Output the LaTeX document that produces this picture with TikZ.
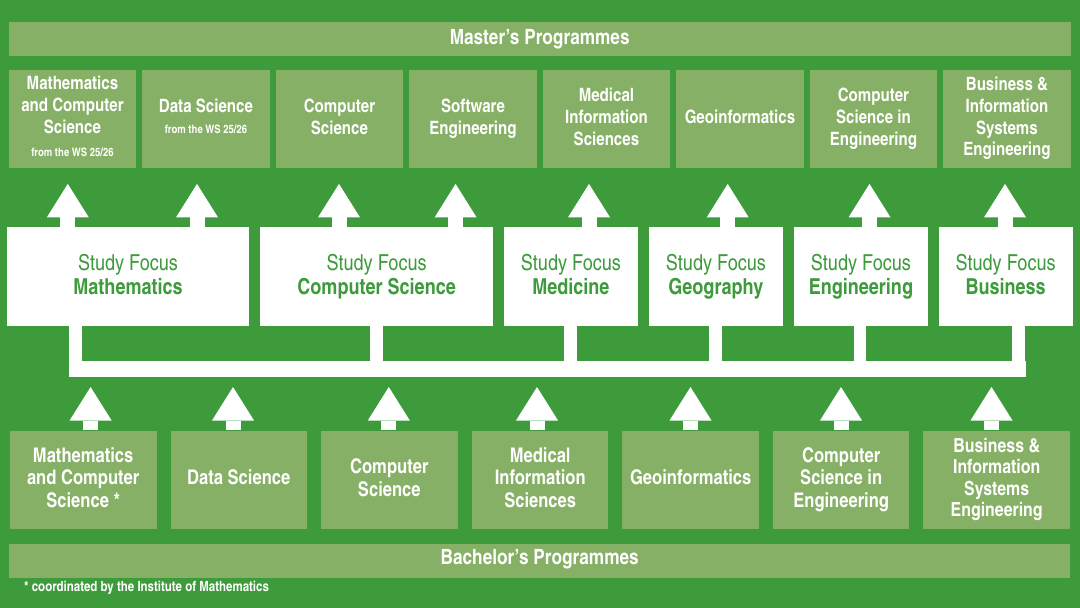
\documentclass[tikz,border=0pt]{standalone}
\usepackage{fontspec}
\setmainfont{texgyreheroscn}[Extension=.otf,UprightFont=*-regular,BoldFont=*-bold]
\usetikzlibrary{arrows.meta}
\definecolor{bggreen}{RGB}{61,155,60}
\definecolor{lightgreen}{RGB}{134,176,101}
\begin{document}
\begin{tikzpicture}[x=1pt,y=-1pt,
  bar/.style={fill=lightgreen,text=white,font=\bfseries\fontsize{21}{24}\selectfont,inner sep=0pt,anchor=north west,minimum height=33.4pt,text depth=4.5pt,text height=15pt},
  master/.style={fill=lightgreen,text=white,font=\bfseries\fontsize{18.4}{22}\selectfont,align=center,inner sep=0pt,anchor=north west,minimum width=127.3pt,minimum height=98pt,text depth=5.5pt},
  bachelor/.style={fill=lightgreen,text=white,font=\bfseries\fontsize{20.2}{22.5}\selectfont,align=center,inner sep=0pt,anchor=north west,minimum height=98.2pt,text depth=4.3pt},
  focus/.style={fill=white,text=bggreen,font=\fontsize{22}{24}\selectfont,align=center,inner sep=0pt,anchor=north west,minimum height=98.7pt,text depth=4.6pt},
  fat/.style={draw=white,line width=15pt,-{Triangle[width=42pt,length=33.5pt,line width=0pt]}},
  stub/.style={draw=white,line width=12.7pt},
  comb/.style={draw=white,line width=15.7pt}
]
\useasboundingbox (0,0) rectangle (1080,608);
\fill[bggreen] (0,0) rectangle (1080,608);

% bars
\node[bar,minimum width=1061.8pt] (mbar) at (8.6,22) {Master’s Programmes};
\node[bar,minimum width=1061pt,text depth=8pt] (bbar) at (9,544) {Bachelor’s Programmes};

% master boxes
\node[master] (m1) at (8.6,70) {Mathematics\\and Computer\\Science\\[1pt]{\fontsize{11.6}{13}\selectfont from the WS 25/26}};
\node[master] (m2) at (142.1,70) {Data Science\\[-1pt]{\fontsize{11.6}{13}\selectfont from the WS 25/26}};
\node[master] (m3) at (275.6,70) {Computer\\Science};
\node[master] (m4) at (409.1,70) {Software\\Engineering};
\node[master] (m5) at (542.6,70) {Medical\\Information\\Sciences};
\node[master] (m6) at (676.1,70) {Geoinformatics};
\node[master] (m7) at (809.6,70) {Computer\\Science in\\Engineering};
\node[master,font=\bfseries\fontsize{18.4}{21.7}\selectfont] (m8) at (943.1,70) {Business \&\\Information\\Systems\\Engineering};

% focus boxes
\node[focus,minimum width=241.6pt] (f1) at (7,227) {Study Focus\\\textbf{Mathematics}};
\node[focus,minimum width=232.8pt] (f2) at (260,227) {Study Focus\\\textbf{Computer Science}};
\node[focus,minimum width=134.6pt] (f3) at (503.4,227) {Study Focus\\\textbf{Medicine}};
\node[focus,minimum width=133.4pt] (f4) at (649,227) {Study Focus\\\textbf{Geography}};
\node[focus,minimum width=133.4pt] (f5) at (794,227) {Study Focus\\\textbf{Engineering}};
\node[focus,minimum width=134pt] (f6) at (938.4,227) {Study Focus\\\textbf{Business}};

% bachelor boxes
\node[bachelor,minimum width=147.4pt] (b1) at (9.3,430.3) {Mathematics\\and Computer\\Science *};
\node[bachelor,minimum width=136pt] (b2) at (170.5,430.3) {Data Science};
\node[bachelor,minimum width=137pt] (b3) at (320.6,430.3) {Computer\\Science};
\node[bachelor,minimum width=136.4pt] (b4) at (471.8,430.3) {Medical\\Information\\Sciences};
\node[bachelor,minimum width=137pt] (b5) at (622,430.3) {Geoinformatics};
\node[bachelor,minimum width=136pt] (b6) at (773,430.3) {Computer\\Science in\\Engineering};
\node[bachelor,minimum width=147pt,font=\bfseries\fontsize{19.4}{21.6}\selectfont] (b7) at (923,430.3) {Business \&\\Information\\Systems\\Engineering};

% comb connecting focus boxes
\coordinate (barL) at (68.9,368.9);
\coordinate (barR) at (1025.5,368.9);
\draw[comb] (barL) -- (barR);
\draw[stub] (75.25,0 |- f1.south) -- (75.25,0 |- barL);
\draw[stub] (376.5,0 |- f2.south) -- (376.5,0 |- barL);
\draw[stub] (570.5,0 |- f3.south) -- (570.5,0 |- barL);
\draw[stub] (715.6,0 |- f4.south) -- (715.6,0 |- barL);
\draw[stub] (860,0 |- f5.south) -- (860,0 |- barL);
\draw[stub] (1018.65,0 |- f6.south) -- (1018.65,0 |- barL);

% arrows focus -> master
\draw[fat,shorten >=15.5pt] (67.8,0 |- f1.north) -- (67.8,0 |- m1.south);
\draw[fat,shorten >=15.5pt] (197,0 |- f1.north) -- (197,0 |- m2.south);
\draw[fat,shorten >=15.5pt] (339,0 |- f2.north) -- (339,0 |- m3.south);
\draw[fat,shorten >=15.5pt] (455.6,0 |- f2.north) -- (455.6,0 |- m4.south);
\draw[fat,shorten >=15.5pt] (589,0 |- f3.north) -- (589,0 |- m5.south);
\draw[fat,shorten >=15.5pt] (727.7,0 |- f4.north) -- (727.7,0 |- m6.south);
\draw[fat,shorten >=15.5pt] (869.5,0 |- f5.north) -- (869.5,0 |- m7.south);
\draw[fat,shorten >=15.5pt] (1005,0 |- f6.north) -- (1005,0 |- m8.south);

% arrows bachelor -> comb
\draw[fat,shorten >=18.1pt] (90.6,0 |- b1.north) -- (90.6,0 |- barL);
\draw[fat,shorten >=18.1pt] (233,0 |- b2.north) -- (233,0 |- barL);
\draw[fat,shorten >=18.1pt] (388.8,0 |- b3.north) -- (388.8,0 |- barL);
\draw[fat,shorten >=18.1pt] (537,0 |- b4.north) -- (537,0 |- barL);
\draw[fat,shorten >=18.1pt] (690.5,0 |- b5.north) -- (690.5,0 |- barL);
\draw[fat,shorten >=18.1pt] (841,0 |- b6.north) -- (841,0 |- barL);
\draw[fat,shorten >=18.1pt] (991.5,0 |- b7.north) -- (991.5,0 |- barL);

% footnote
\node[anchor=west,text=white,font=\bfseries\fontsize{14}{16}\selectfont,inner sep=0pt] (fn) at (24,588) {* coordinated by the Institute of Mathematics};
\end{tikzpicture}
\end{document}
